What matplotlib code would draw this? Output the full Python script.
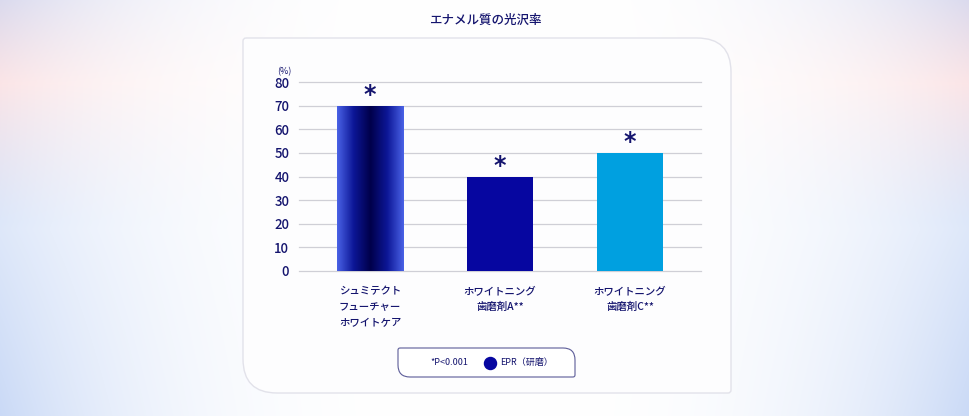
import numpy as np
import matplotlib
matplotlib.use("Agg")
import matplotlib.pyplot as plt
from matplotlib.path import Path
from matplotlib.patches import PathPatch
from matplotlib.colors import LinearSegmentedColormap

plt.rcParams['font.family'] = ['Noto Sans CJK JP', 'DejaVu Sans']

# data
title = "エナメル質の光沢率"
categories = ["シュミテクト\nフューチャー\nホワイトケア", "ホワイトニング\n歯磨剤A**", "ホワイトニング\n歯磨剤C**"]
values = [70, 40, 50]
marks = ["*", "*", "*"]
yticks = [0, 10, 20, 30, 40, 50, 60, 70, 80]
bar_colors = [None, "#0606a0", "#00a0e0"]
navy = "#14146e"

W, H = 970, 416
fig = plt.figure(figsize=(W / 100, H / 100), dpi=100)

# background with soft glow on the sides (pixel coords)
bg = fig.add_axes([0, 0, 1, 1])
bg.set_xlim(0, W)
bg.set_ylim(H, 0)
bg.axis("off")
xx = np.linspace(0, 1, W)[None, :]
yy = np.linspace(0, 1, H)[:, None]
side = np.clip(np.abs(xx - 0.5) * 2, 0, 1) ** 3
vert = 0.6 + 0.4 * np.abs(yy - 0.55) * 2
tint_blue = np.array([0.76, 0.83, 0.96])
tint_pink = np.array([0.98, 0.87, 0.88])
mix = (np.clip(1 - np.abs(yy - 0.2) * 3, 0, 1))[..., None]
tint = tint_blue * (1 - mix) + tint_pink * mix
amt = (side * vert)[..., None] * 0.9
img = np.ones((H, W, 3)) * (1 - amt) + tint * amt
bg.imshow(img, extent=[0, W, H, 0], aspect="auto", zorder=0)


def round_box(x0, y0, x1, y1, r_tl, r_tr, r_br, r_bl):
    verts = [(x0 + r_tl, y0), (x1 - r_tr, y0), (x1, y0), (x1, y0 + r_tr),
             (x1, y1 - r_br), (x1, y1), (x1 - r_br, y1),
             (x0 + r_bl, y1), (x0, y1), (x0, y1 - r_bl),
             (x0, y0 + r_tl), (x0, y0), (x0 + r_tl, y0)]
    codes = [Path.MOVETO, Path.LINETO, Path.CURVE3, Path.CURVE3,
             Path.LINETO, Path.CURVE3, Path.CURVE3,
             Path.LINETO, Path.CURVE3, Path.CURVE3,
             Path.LINETO, Path.CURVE3, Path.CURVE3]
    return Path(verts, codes)


panel = PathPatch(round_box(243, 38, 731, 393, 3, 34, 3, 34),
                  facecolor="#fdfdfe", edgecolor="#e2e2ea", lw=1.0, zorder=1)
bg.add_patch(panel)

legend_box = PathPatch(round_box(398, 348, 575, 377, 2, 12, 2, 12),
                       facecolor="white", edgecolor="#5c5c98", lw=0.8, zorder=2)
bg.add_patch(legend_box)
bg.text(430, 362.5, "*P<0.001", fontsize=6.5, color=navy, ha="left", va="center", zorder=3)
bg.scatter([490], [362.5], s=75, color="#0606a0", zorder=3)
bg.text(500, 362.5, "EPR（研磨）", fontsize=6.5, color=navy, ha="left", va="center", zorder=3)

fig.text(485 / W, 1 - 20 / H, title, fontsize=9, color=navy, ha="center", va="center",
         weight="medium")

# chart
ax = fig.add_axes([299 / W, 1 - 271 / H, 402 / W, 189 / H])
ax.patch.set_alpha(0)
for s in ax.spines.values():
    s.set_visible(False)
ax.set_yticks(yticks)
ax.set_yticklabels([str(t) for t in yticks], fontsize=9.5, color=navy, weight="medium")
ax.tick_params(axis="y", length=0, pad=7)
ax.set_xticks([])
for t in yticks:
    ax.axhline(t, color="#cfcfd6", lw=0.9, zorder=1, clip_on=False)

x = np.arange(len(values))
bw = 0.51
bars = ax.bar(x, values, width=bw, zorder=2,
              color=[c if c else "none" for c in bar_colors])

# gradient for the first bar
grad_cmap = LinearSegmentedColormap.from_list(
    "g", ["#4a62e6", "#0c1696", "#00004a", "#0c1696", "#4a62e6"])
b0 = bars[0]
gimg = ax.imshow(np.linspace(0, 1, 256)[None, :], cmap=grad_cmap, aspect="auto",
                 extent=[b0.get_x(), b0.get_x() + b0.get_width(), 0, b0.get_height()],
                 zorder=2)
gimg.set_clip_path(b0)
ax.set_xlim(-0.546, 2.546)
ax.set_ylim(0, 80)

for xi, v, m in zip(x, values, marks):
    ax.text(xi, v - 0.5, m, fontsize=17, color=navy, ha="center", va="bottom",
            family="DejaVu Sans", weight="bold", clip_on=False)

for xi, c in zip(x, categories):
    ax.text(xi, -6.3, c, fontsize=7.5, color=navy, ha="center", va="top",
            linespacing=1.75, weight="medium", clip_on=False)

ax.text(-0.66, 84.5, "(%)", fontsize=6.5, color=navy, ha="center", va="center", clip_on=False)

fig.savefig("out.png", dpi=100)
